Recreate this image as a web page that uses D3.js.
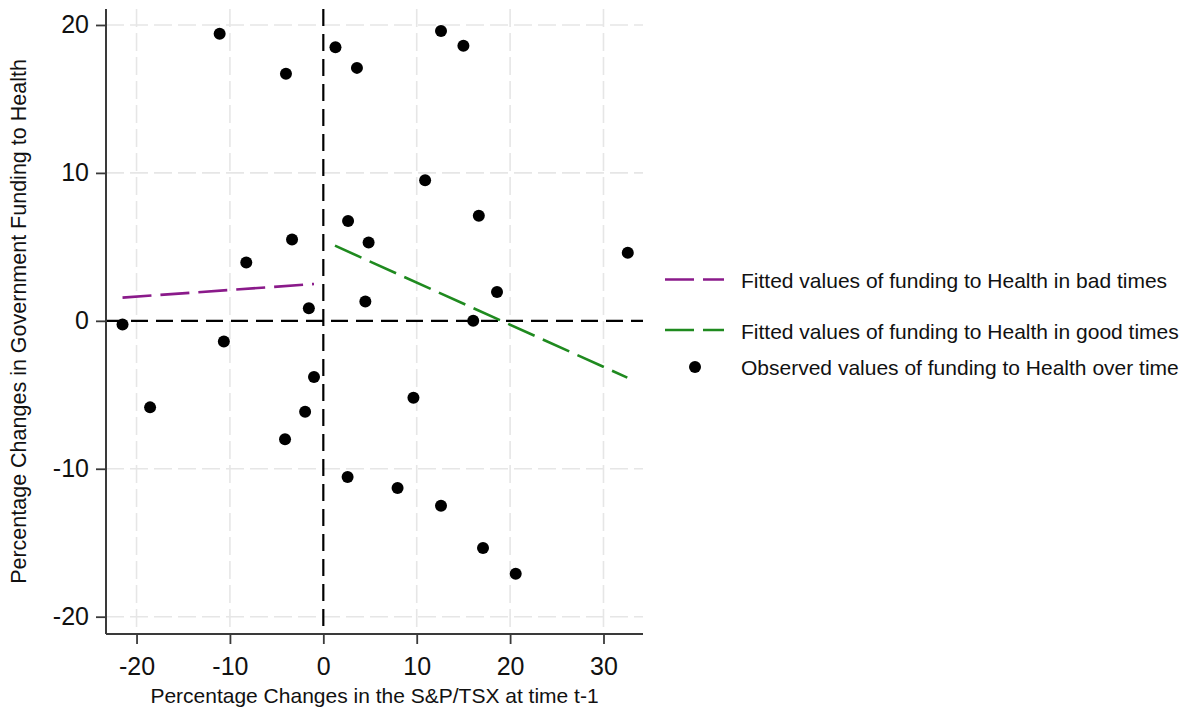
<!DOCTYPE html>
<html>
<head>
<meta charset="utf-8">
<script src="https://cdn.jsdelivr.net/npm/d3@7"></script>
<style>
  html, body { margin: 0; padding: 0; background: #ffffff; }
  svg { display: block; }
  text { font-family: "Liberation Sans", Arial, Helvetica, sans-serif; fill: #111111; }
</style>
</head>
<body>
<svg id="chart" width="1190" height="711"></svg>
<script>
// Observed year-over-year changes: S&P/TSX change at t-1 (x) vs. health funding change (y)
const obsX = [-11.1, -4.0, 1.3, 3.6, 12.6, 15.0, 10.9, 2.65, -3.35, 4.85,
              16.65, 32.6, -8.25, 18.6, 4.5, -1.55, -21.5, 16.05, -10.65, -1.0,
              -18.55, -1.95, 9.65, -4.1, 2.6, 7.95, 12.6, 17.1, 20.6];
const obsY = [19.4, 16.7, 18.5, 17.1, 19.6, 18.6, 9.5, 6.75, 5.5, 5.3,
              7.1, 4.6, 3.95, 1.95, 1.3, 0.85, -0.25, 0.0, -1.4, -3.8,
              -5.85, -6.15, -5.2, -8.0, -10.55, -11.3, -12.5, -15.35, -17.1];

// Fitted regression lines (endpoints span each regime's x-range)
const badFitX = [-21.5, -1.0];
const badFitY = [1.57, 2.49];
const goodFitX = [1.25, 32.55];
const goodFitY = [5.08, -3.84];

// Axis ticks
const xTicks = [-20, -10, 0, 10, 20, 30];
const yTicks = [-20, -10, 0, 10, 20];

// Legend entries
const legendLabels = [
  "Fitted values of funding to Health in bad times",
  "Fitted values of funding to Health in good times",
  "Observed values of funding to Health over time"
];

const COLORS = { bad: "#8a1a8a", good: "#1f8a1f", obs: "#000000" };
const FONT = "\"Liberation Sans\", Arial, Helvetica, sans-serif";

const svg = d3.select("#chart");
const plot = { left: 106, right: 643, top: 9, bottom: 634 };

const x = d3.scaleLinear().domain([-23.27, 34.23]).range([plot.left, plot.right]);
const y = d3.scaleLinear().domain([-21.17, 21.08]).range([plot.bottom, plot.top]);

// Light dashed grid
const grid = svg.append("g").attr("class", "grid");
grid.selectAll("line.vg").data(xTicks.filter(d => d !== 0)).join("line")
  .attr("x1", d => x(d)).attr("x2", d => x(d))
  .attr("y1", plot.top).attr("y2", plot.bottom)
  .attr("stroke", "#e6e6e6").attr("stroke-width", 1.6)
  .attr("stroke-dasharray", "18 6");
grid.selectAll("line.hg").data(yTicks.filter(d => d !== 0)).join("line")
  .attr("x1", plot.left).attr("x2", plot.right)
  .attr("y1", d => y(d)).attr("y2", d => y(d))
  .attr("stroke", "#e6e6e6").attr("stroke-width", 1.6)
  .attr("stroke-dasharray", "18 6");

// Zero reference lines
svg.append("line")
  .attr("x1", plot.left).attr("x2", plot.right)
  .attr("y1", y(0)).attr("y2", y(0))
  .attr("stroke", "#000").attr("stroke-width", 2.2)
  .attr("stroke-dasharray", "17 8");
svg.append("line")
  .attr("x1", x(0)).attr("x2", x(0))
  .attr("y1", plot.top).attr("y2", plot.bottom)
  .attr("stroke", "#000").attr("stroke-width", 2.2)
  .attr("stroke-dasharray", "17 8");

// Axes (plain hyphen for negative labels)
const fmt = d => String(d);
const yAxis = svg.append("g")
  .attr("transform", `translate(${plot.left},0)`)
  .call(d3.axisLeft(y).tickValues(yTicks).tickFormat(fmt).tickSize(10).tickPadding(7).tickSizeOuter(0));
const xAxis = svg.append("g")
  .attr("transform", `translate(0,${plot.bottom})`)
  .call(d3.axisBottom(x).tickValues(xTicks).tickFormat(fmt).tickSize(10).tickPadding(13).tickSizeOuter(0));

[xAxis, yAxis].forEach(ax => {
  ax.select(".domain").attr("stroke", "#3a3a3a").attr("stroke-width", 2);
  ax.selectAll(".tick line").attr("stroke", "#3a3a3a").attr("stroke-width", 1.8);
  ax.selectAll(".tick text")
    .attr("font-family", FONT).attr("font-size", 25).attr("fill", "#111111");
});
// Domain lines cover the full plot extent
yAxis.select(".domain").attr("d", `M0,${plot.top}V${plot.bottom}`);
xAxis.select(".domain").attr("d", `M${plot.left},0H${plot.right}`);

// Fitted lines
const line = d3.line().x(d => x(d[0])).y(d => y(d[1]));
svg.append("path")
  .datum(d3.zip(badFitX, badFitY))
  .attr("d", line).attr("fill", "none")
  .attr("stroke", COLORS.bad).attr("stroke-width", 2.6)
  .attr("stroke-dasharray", "29 9");
svg.append("path")
  .datum(d3.zip(goodFitX, goodFitY))
  .attr("d", line).attr("fill", "none")
  .attr("stroke", COLORS.good).attr("stroke-width", 2.6)
  .attr("stroke-dasharray", "29 9");

// Observed points
svg.append("g").selectAll("circle")
  .data(d3.zip(obsX, obsY)).join("circle")
  .attr("cx", d => x(d[0])).attr("cy", d => y(d[1]))
  .attr("r", 6).attr("fill", COLORS.obs);

// Axis titles
svg.append("text")
  .attr("x", (plot.left + plot.right) / 2).attr("y", 703)
  .attr("text-anchor", "middle").attr("font-size", 21)
  .text("Percentage Changes in the S&P/TSX at time t-1");
svg.append("text")
  .attr("transform", `translate(26,${(plot.top + plot.bottom) / 2}) rotate(-90)`)
  .attr("text-anchor", "middle").attr("font-size", 21.5)
  .text("Percentage Changes in Government Funding to Health");

// Legend
const legend = svg.append("g");
const rowY = [279.5, 330, 367];
legend.append("line")
  .attr("x1", 665).attr("x2", 724).attr("y1", rowY[0]).attr("y2", rowY[0])
  .attr("stroke", COLORS.bad).attr("stroke-width", 2.6).attr("stroke-dasharray", "29 9");
legend.append("line")
  .attr("x1", 665).attr("x2", 724).attr("y1", rowY[1]).attr("y2", rowY[1])
  .attr("stroke", COLORS.good).attr("stroke-width", 2.6).attr("stroke-dasharray", "29 9");
legend.append("circle")
  .attr("cx", 695).attr("cy", rowY[2]).attr("r", 6).attr("fill", COLORS.obs);
legend.selectAll("text.lbl").data(legendLabels).join("text")
  .attr("x", 741).attr("y", (d, i) => [288, 339, 375][i])
  .attr("font-size", 21)
  .text(d => d);
</script>
</body>
</html>
